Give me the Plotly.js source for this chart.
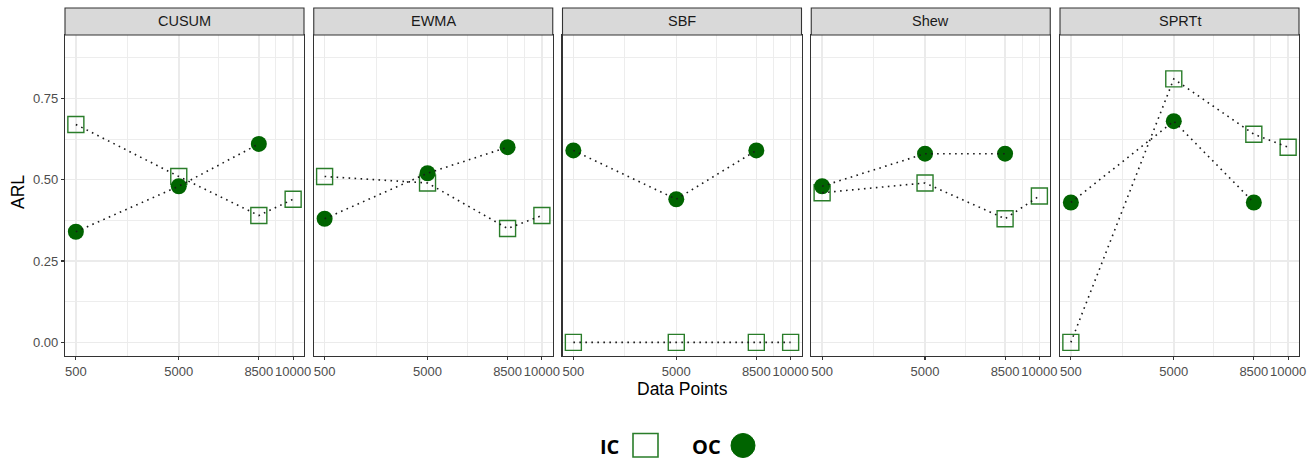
<!DOCTYPE html>
<html>
<head>
<meta charset="utf-8">
<script src="https://cdn.plot.ly/plotly-3.0.1.min.js"></script>
<style>html,body{margin:0;padding:0;background:#fff}</style>
</head>
<body>
<div id="chart" style="width:1312px;height:461px"></div>
<script>
// ARL of each monitoring method by number of data points
const methods = ['CUSUM', 'EWMA', 'SBF', 'Shew', 'SPRTt'];
const dataPoints = [500, 5000, 8500, 10000];
const xTickText = ['500', '5000', '8500', '10000'];

// in-control ARL per method (same order as methods)
const icARL = [
  [0.67, 0.51, 0.39, 0.44],
  [0.51, 0.49, 0.35, 0.39],
  [0.00, 0.00, 0.00, 0.00],
  [0.46, 0.49, 0.38, 0.45],
  [0.00, 0.81, 0.64, 0.60]
];
// out-of-control ARL per method (no run at 10000)
const ocARL = [
  [0.34, 0.48, 0.61, null],
  [0.38, 0.52, 0.60, null],
  [0.59, 0.44, 0.59, null],
  [0.48, 0.58, 0.58, null],
  [0.43, 0.68, 0.43, null]
];
const yTicks = [0, 0.25, 0.5, 0.75];
const yTickText = ['0.00', '0.25', '0.50', '0.75'];

const W = 1312, H = 461;
const px = x => x / W;
const py = y => 1 - y / H;

const FONT = 'Liberation Sans, Arial, sans-serif';
const GREEN = '#006400';
const SQ = '#2a7d2a';
const BORDER = '#333333';
const GRID = '#EBEBEB';

// panel geometry in pixels
const panelLeft = 65, panelW = 239, panelStep = 248.75;
const plotTop = 35, plotBottom = 356, stripTop = 8;

const traces = [];
const layout = {
  width: W, height: H,
  margin: {l: 0, r: 0, t: 0, b: 0},
  paper_bgcolor: '#fff', plot_bgcolor: '#fff',
  showlegend: false,
  font: {family: FONT, color: '#4D4D4D'},
  shapes: [], annotations: []
};

methods.forEach((m, i) => {
  const k = i + 1;
  const xa = 'x' + (k === 1 ? '' : k);
  const ya = 'y' + (k === 1 ? '' : k);
  const x0 = panelLeft + i * panelStep, x1 = x0 + panelW;

  // points first, dotted lines on top
  traces.push({
    x: dataPoints, y: icARL[i], xaxis: xa, yaxis: ya, type: 'scatter', mode: 'markers',
    marker: {symbol: 'square-open', size: 16, color: SQ, line: {width: 1.4, color: SQ}},
    hoverinfo: 'x+y', name: 'IC'
  });
  traces.push({
    x: dataPoints, y: ocARL[i], xaxis: xa, yaxis: ya, type: 'scatter', mode: 'markers',
    marker: {symbol: 'circle', size: 16, color: GREEN},
    hoverinfo: 'x+y', name: 'OC'
  });
  [icARL[i], ocARL[i]].forEach(vals => {
    traces.push({
      x: dataPoints, y: vals, xaxis: xa, yaxis: ya, type: 'scatter', mode: 'lines',
      line: {color: '#1a1a1a', width: 1.6, dash: '1.6px,4.4px'},
      hoverinfo: 'skip'
    });
  });

  layout['xaxis' + (k === 1 ? '' : k)] = {
    domain: [px(x0), px(x1)], anchor: ya,
    range: [25, 10475], tickmode: 'array', tickvals: dataPoints, ticktext: xTickText,
    tickangle: 0,
    ticks: 'outside', ticklen: 3, tickwidth: 1.1, tickcolor: BORDER,
    tickfont: {family: FONT, size: 13, color: '#4D4D4D'},
    showgrid: true, gridcolor: GRID, gridwidth: 1.5,
    minor: {tickmode: 'array', tickvals: [2750, 6750, 9250], showgrid: true, gridcolor: GRID, gridwidth: 0.9, ticks: ''},
    showline: true, mirror: true, linecolor: BORDER, linewidth: 1.1,
    zeroline: false, fixedrange: true
  };
  const yax = {
    domain: [py(plotBottom), py(plotTop)], anchor: xa,
    range: [-0.042, 0.945], tickmode: 'array', tickvals: yTicks, ticktext: yTickText,
    ticks: k === 1 ? 'outside' : '', ticklen: 3, tickwidth: 1.1, tickcolor: BORDER,
    showticklabels: k === 1,
    tickfont: {family: FONT, size: 13, color: '#4D4D4D'},
    showgrid: true, gridcolor: GRID, gridwidth: 1.5,
    minor: {tickmode: 'array', tickvals: [0.125, 0.375, 0.625, 0.875], showgrid: true, gridcolor: GRID, gridwidth: 0.9, ticks: ''},
    showline: true, mirror: true, linecolor: BORDER, linewidth: 1.1,
    zeroline: false, fixedrange: true
  };
  if (k > 1) yax.matches = 'y';
  layout['yaxis' + (k === 1 ? '' : k)] = yax;

  // facet strip
  layout.shapes.push({
    type: 'rect', xref: 'paper', yref: 'paper',
    x0: px(x0), x1: px(x1), y0: py(plotTop), y1: py(stripTop),
    fillcolor: '#D9D9D9', line: {color: BORDER, width: 1.1}
  });
  layout.annotations.push({
    xref: 'paper', yref: 'paper', x: px((x0 + x1) / 2), y: py((plotTop + stripTop) / 2),
    text: m, showarrow: false, xanchor: 'center', yanchor: 'middle',
    font: {family: FONT, size: 14.5, color: '#1A1A1A'}
  });
});

// axis titles
layout.annotations.push({
  xref: 'paper', yref: 'paper', x: px(18), y: py(192), text: 'ARL', textangle: -90,
  showarrow: false, xanchor: 'center', yanchor: 'middle',
  font: {family: FONT, size: 17.5, color: '#000'}
});
layout.annotations.push({
  xref: 'paper', yref: 'paper', x: px(682), y: py(389), text: 'Data Points',
  showarrow: false, xanchor: 'center', yanchor: 'middle',
  font: {family: FONT, size: 17.5, color: '#000'}
});

// legend: label followed by its key
const LEG = 'Open Sans, Liberation Sans, sans-serif';
layout.annotations.push({
  xref: 'paper', yref: 'paper', x: px(610), y: py(446), text: '<b>IC</b>',
  showarrow: false, xanchor: 'center', yanchor: 'middle',
  font: {family: LEG, size: 20, color: '#000'}
});
layout.shapes.push({
  type: 'rect', xref: 'paper', yref: 'paper',
  x0: px(633), x1: px(658), y0: py(457), y1: py(433.5),
  fillcolor: 'rgba(0,0,0,0)', line: {color: SQ, width: 1.6}
});
layout.annotations.push({
  xref: 'paper', yref: 'paper', x: px(707), y: py(446), text: '<b>OC</b>',
  showarrow: false, xanchor: 'center', yanchor: 'middle',
  font: {family: LEG, size: 20, color: '#000'}
});
layout.shapes.push({
  type: 'circle', xref: 'paper', yref: 'paper',
  x0: px(731), x1: px(755), y0: py(457.5), y1: py(433.5),
  fillcolor: GREEN, line: {color: GREEN, width: 1}
});

Plotly.newPlot('chart', traces, layout, {displayModeBar: false, staticPlot: true});
</script>
</body>
</html>
